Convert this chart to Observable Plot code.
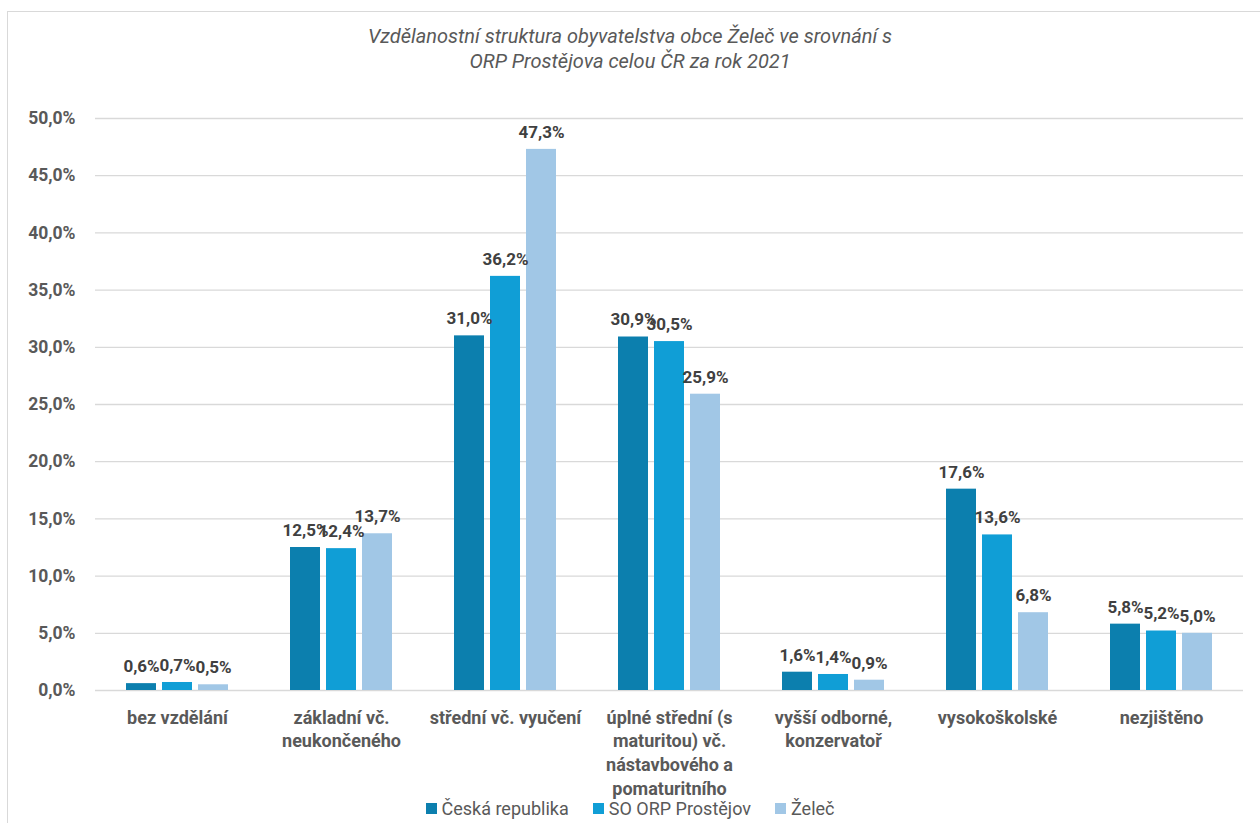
<!DOCTYPE html>
<html>
<head>
<meta charset="utf-8">
<script src="https://cdn.jsdelivr.net/npm/d3@7"></script>
<script src="https://cdn.jsdelivr.net/npm/@observablehq/plot@0.6"></script>
<style>
  html, body { margin: 0; padding: 0; background: #fff; }
  #wrap { position: relative; width: 1260px; height: 823px; overflow: hidden; }
  #frame { position: absolute; left: 7px; top: 11px; width: 1260px; height: 830px;
           border-left: 1.5px solid #d9d9d9; border-top: 1.5px solid #d9d9d9; box-sizing: border-box; }
  #title { position: absolute; left: 0; width: 1260px; top: 24px; text-align: center;
           font-family: Roboto, sans-serif; font-style: italic; font-weight: 400;
           font-size: 20px; line-height: 25px; color: #595959; }
  #chart { position: absolute; left: 0; top: 0; }
  #legend { position: absolute; top: 798px; left: 0; width: 1260px; text-align: center;
            font-family: Roboto, sans-serif; font-size: 18px; line-height: 22px; color: #595959; }
  #legend span.item { margin: 0 12px; white-space: nowrap; }
  #legend span.sw { display: inline-block; width: 11px; height: 11px; margin-right: 5px; vertical-align: 1px; }
</style>
</head>
<body>
<div id="wrap">
  <div id="frame"></div>
  <div id="chart"></div>
  <div id="title">Vzdělanostní struktura obyvatelstva obce Želeč ve srovnání s<br>ORP Prostějova celou ČR za rok 2021</div>
  <div id="legend"></div>
</div>
<script>
const categories = [
  "bez vzdělání",
  "základní vč.\nneukončeného",
  "střední vč. vyučení",
  "úplné střední (s\nmaturitou) vč.\nnástavbového a\npomaturitního",
  "vyšší odborné,\nkonzervatoř",
  "vysokoškolské",
  "nezjištěno"
];
const series = ["Česká republika", "SO ORP Prostějov", "Želeč"];
const ceskaRepublika = [0.6, 12.5, 31.0, 30.9, 1.6, 17.6, 5.8];
const soOrpProstejov = [0.7, 12.4, 36.2, 30.5, 1.4, 13.6, 5.2];
const zelec = [0.5, 13.7, 47.3, 25.9, 0.9, 6.8, 5.0];
const yTicks = [0, 5, 10, 15, 20, 25, 30, 35, 40, 45, 50];
const colors = ["#0C7FAE", "#109ED6", "#A1C7E6"];

const seriesValues = [ceskaRepublika, soOrpProstejov, zelec];
const data = [];
categories.forEach((c, i) => {
  series.forEach((s, j) => data.push({category: c, series: s, value: seriesValues[j][i]}));
});

const fmt = v => v.toFixed(1).replace(".", ",") + "%";

const chart = Plot.plot({
  width: 1260,
  height: 823,
  marginTop: 118,
  marginBottom: 133,
  marginLeft: 93,
  marginRight: 16,
  style: {background: "transparent", fontFamily: "Roboto, sans-serif", overflow: "visible"},
  fx: {domain: categories, padding: 0, label: null},
  x: {domain: series, paddingInner: 0.17, paddingOuter: 0.86, axis: null},
  y: {domain: [0, 50], label: null, axis: null},
  color: {domain: series, range: colors},
  marks: [
    Plot.gridY(yTicks, {stroke: "#d9d9d9", strokeOpacity: 1, strokeWidth: 1.3, facetAnchor: null}),
    Plot.axisY(yTicks, {
      tickSize: 0, tickPadding: 0, dx: -20, anchor: "left",
      tickFormat: d => d.toFixed(1).replace(".", ",") + "%",
      fontSize: 17.5, fontWeight: "bold", fill: "#595959",
      fontFamily: "Roboto, sans-serif", label: null
    }),
    Plot.barY(data, {fx: "category", x: "series", y: "value", fill: "series"}),
    Plot.text(data, {
      fx: "category", x: "series", y: "value", text: d => fmt(d.value),
      dy: -17, fontSize: 17, fontWeight: "bold", fill: "#404040",
      fontFamily: "Roboto, sans-serif"
    }),
    Plot.axisFx({
      anchor: "bottom", tickSize: 0, tickPadding: 16, lineHeight: 1.33,
      fontSize: 18, fontWeight: "bold", fill: "#595959",
      fontFamily: "Roboto, sans-serif", label: null
    })
  ]
});
document.getElementById("chart").appendChild(chart);

const legend = document.getElementById("legend");
series.forEach((s, i) => {
  const item = document.createElement("span");
  item.className = "item";
  const sw = document.createElement("span");
  sw.className = "sw";
  sw.style.background = colors[i];
  item.appendChild(sw);
  item.appendChild(document.createTextNode(s));
  legend.appendChild(item);
});
</script>
</body>
</html>
